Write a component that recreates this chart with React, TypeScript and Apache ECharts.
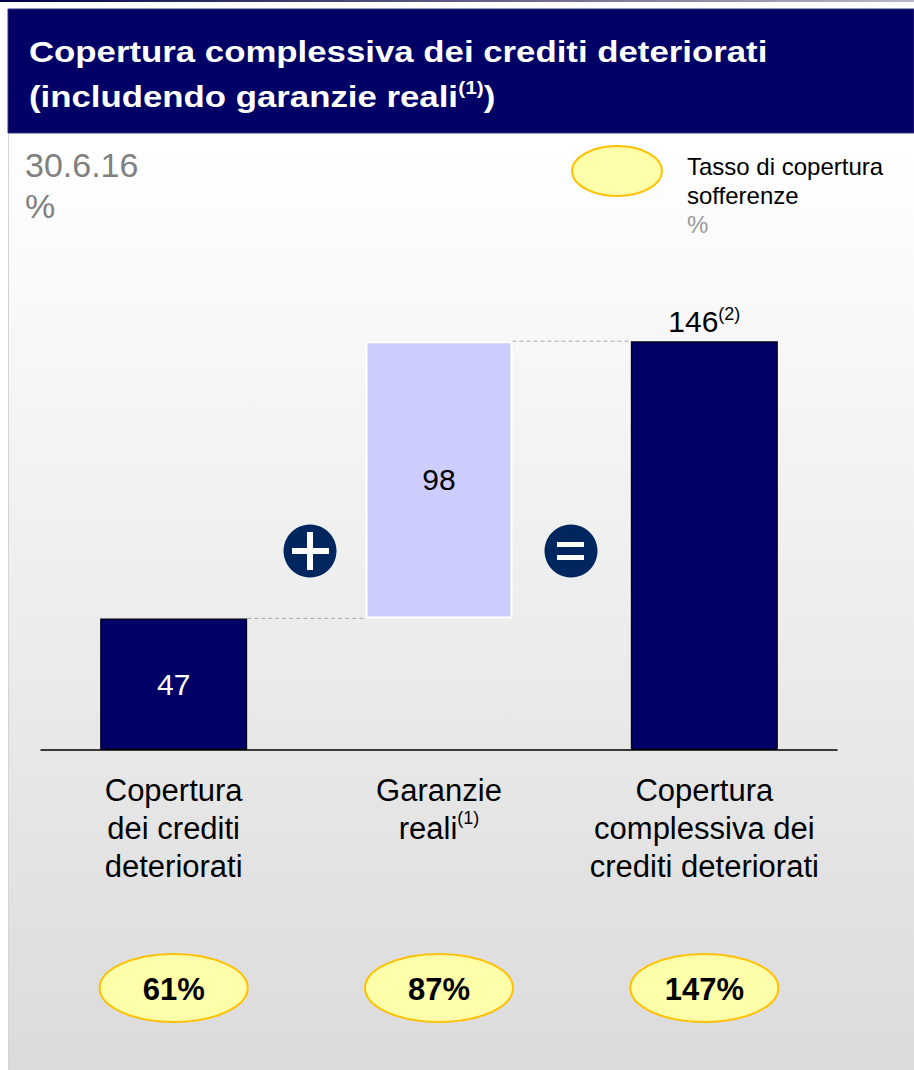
import React, { useEffect, useRef } from "react";
import * as echarts from "echarts";

// ---------- data ----------
const titleLine1 = "Copertura complessiva dei crediti deteriorati";
const titleLine2 = "(includendo garanzie reali";
const titleNote = "(1)";
const dateLabel = "30.6.16";
const unitLabel = "%";
const legendLines = ["Tasso di copertura", "sofferenze"];
const categoryLines = [
  ["Copertura", "dei crediti", "deteriorati"],
  ["Garanzie", "reali"],
  ["Copertura", "complessiva dei", "crediti deteriorati"],
];
const categoryNotes = ["", "(1)", ""];
const impairedCoverage = 47; // Copertura dei crediti deteriorati
const collateral = 98; // Garanzie reali
const totalCoverage = 146; // Copertura complessiva
const totalNote = "(2)";
const badLoanCoverage = [61, 87, 147]; // Tasso di copertura sofferenze (%)

const W = 914;
const H = 1070;
const FONT = "'Liberation Sans', Arial, Helvetica, sans-serif";
const NAVY = "#000066";
const LIGHT = "#ccccff";
const BAR_W = 147;

export default function App() {
  const ref = useRef<HTMLDivElement>(null);

  useEffect(() => {
    if (!ref.current) return;
    const chart = echarts.init(ref.current, null, { renderer: "svg", width: W, height: H });
    const categories = categoryLines.map((l) => l.join(" "));

    const baseData = [0, impairedCoverage, 0];
    const visData = [
      {
        value: impairedCoverage,
        itemStyle: { color: NAVY, borderColor: "#000022", borderWidth: 1.5 },
        label: {
          show: true,
          position: "inside",
          color: "#ffffff",
          fontSize: 30,
          fontFamily: FONT,
          formatter: () => String(impairedCoverage),
        },
      },
      {
        value: totalCoverage - impairedCoverage,
        itemStyle: { color: LIGHT, borderColor: "#ffffff", borderWidth: 2 },
        label: {
          show: true,
          position: "inside",
          color: "#000000",
          fontSize: 30,
          fontFamily: FONT,
          formatter: () => String(collateral),
        },
      },
      {
        value: totalCoverage,
        itemStyle: { color: NAVY, borderColor: "#000022", borderWidth: 1.5 },
        label: {
          show: true,
          position: "top",
          distance: 4,
          color: "#000000",
          fontFamily: FONT,
          formatter: () => `{v|${totalCoverage}}{s|${totalNote}}`,
          rich: {
            v: { fontSize: 30, lineHeight: 32, fontFamily: FONT, color: "#000" },
            s: { fontSize: 18, lineHeight: 22, verticalAlign: "top", fontFamily: FONT, color: "#000" },
          },
        },
      },
    ];

    chart.setOption({
      animation: false,
      grid: { left: 41, right: 77, top: 330, bottom: H - 750, containLabel: false },
      xAxis: {
        type: "category",
        data: categories,
        z: 10,
        axisLine: { show: true, lineStyle: { color: "#000000", width: 1.5 } },
        axisTick: { show: false },
        axisLabel: {
          interval: 0,
          margin: 21,
          color: "#000000",
          fontSize: 31,
          lineHeight: 38,
          fontFamily: FONT,
          formatter: (_v: string, idx: number) => {
            const lines = categoryLines[idx].map((l) => `{n|${l}}`);
            if (categoryNotes[idx]) {
              lines[lines.length - 1] += `{s|${categoryNotes[idx]}}`;
            }
            return lines.join("\n");
          },
          rich: {
            n: { fontSize: 31, lineHeight: 38, fontFamily: FONT, color: "#000" },
            s: { fontSize: 18, lineHeight: 26, verticalAlign: "top", fontFamily: FONT, color: "#000" },
          },
        },
      },
      yAxis: {
        type: "value",
        min: 0,
        max: 150,
        show: false,
        splitLine: { show: false },
      },
      series: [
        {
          type: "bar",
          stack: "w",
          barWidth: BAR_W,
          data: baseData,
          itemStyle: { color: "transparent" },
          silent: true,
        },
        {
          type: "bar",
          stack: "w",
          barWidth: BAR_W,
          data: visData,
        },
      ],
    });

    const px = (i: number, v: number) => chart.convertToPixel({ gridIndex: 0 }, [i, v]) as number[];
    const xs = [0, 1, 2].map((i) => px(i, 0)[0]);
    const yImp = px(0, impairedCoverage)[1];
    const yTot = px(2, totalCoverage)[1];

    const graphic: any[] = [
      // backgrounds
      { type: "rect", z: -100, shape: { x: 0, y: 0, width: W, height: H }, style: { fill: "#ffffff" } },
      {
        type: "rect",
        z: -99,
        shape: { x: 0, y: 0, width: W, height: 2 },
        style: {
          fill: new echarts.graphic.LinearGradient(0, 0, 1, 0, [
            { offset: 0, color: "#000044" },
            { offset: 1, color: "#b8b8c8" },
          ]),
        },
      },
      {
        type: "rect",
        z: -99,
        shape: { x: 9, y: 133, width: W - 9, height: H - 133 },
        style: {
          fill: new echarts.graphic.LinearGradient(0, 0, 0, 1, [
            { offset: 0, color: "#ffffff" },
            { offset: 1, color: "#dbdbdb" },
          ]),
        },
      },
      { type: "line", z: -98, shape: { x1: 8.5, y1: 133, x2: 8.5, y2: H }, style: { stroke: "#d4d4d4", lineWidth: 1 } },
      { type: "rect", z: -98, shape: { x: 8, y: 9, width: W - 8, height: 124 }, style: { fill: NAVY, stroke: "#33337a", lineWidth: 1 } },
      // title
      {
        type: "text",
        x: 29,
        y: 52,
        scaleX: 1.16,
        z: 50,
        style: { text: titleLine1, fill: "#ffffff", font: `bold 30px ${FONT}`, verticalAlign: "middle", align: "left" },
      },
      {
        type: "text",
        x: 29,
        y: 97,
        scaleX: 1.16,
        z: 50,
        style: {
          text: `{t|${titleLine2}}{s|${titleNote}}{t|)}`,
          fill: "#ffffff",
          font: `bold 30px ${FONT}`,
          verticalAlign: "middle",
          align: "left",
          rich: {
            t: { fontSize: 30, fontWeight: "bold", fontFamily: FONT, lineHeight: 36, fill: "#ffffff" },
            s: { fontSize: 18, fontWeight: "bold", fontFamily: FONT, lineHeight: 22, verticalAlign: "top", fill: "#ffffff" },
          },
        },
      },
      // date / unit
      { type: "text", x: 25, y: 165, z: 50, style: { text: dateLabel, fill: "#808080", font: `34px ${FONT}`, verticalAlign: "middle" } },
      { type: "text", x: 25, y: 206, z: 50, style: { text: unitLabel, fill: "#808080", font: `34px ${FONT}`, verticalAlign: "middle" } },
      // legend
      {
        type: "ellipse",
        z: 50,
        shape: { cx: 617, cy: 171, rx: 45, ry: 25 },
        style: { fill: "#ffffaa", stroke: "#ffc000", lineWidth: 2 },
      },
      { type: "text", x: 687, y: 166, z: 50, style: { text: legendLines[0], fill: "#000", font: `24px ${FONT}`, verticalAlign: "middle" } },
      { type: "text", x: 687, y: 195, z: 50, style: { text: legendLines[1], fill: "#000", font: `24px ${FONT}`, verticalAlign: "middle" } },
      { type: "text", x: 687, y: 224, z: 50, style: { text: unitLabel, fill: "#999999", font: `24px ${FONT}`, verticalAlign: "middle" } },
      // plus
      { type: "circle", z: 50, shape: { cx: 310, cy: 551, r: 26.5 }, style: { fill: "#002660" } },
      { type: "rect", z: 51, shape: { x: 292, y: 548, width: 37, height: 6 }, style: { fill: "#ffffff" } },
      { type: "rect", z: 51, shape: { x: 307, y: 532, width: 6, height: 38 }, style: { fill: "#ffffff" } },
      // equals
      { type: "circle", z: 50, shape: { cx: 571, cy: 551, r: 26.5 }, style: { fill: "#002660" } },
      { type: "rect", z: 51, shape: { x: 557, y: 542, width: 27, height: 5 }, style: { fill: "#ffffff" } },
      { type: "rect", z: 51, shape: { x: 557, y: 555, width: 27, height: 5 }, style: { fill: "#ffffff" } },
      // connectors
      {
        type: "line",
        z: 20,
        shape: { x1: xs[0] + BAR_W / 2, y1: yImp, x2: xs[1] - BAR_W / 2, y2: yImp },
        style: { stroke: "#a8a8a8", lineWidth: 1, lineDash: [4, 3] },
      },
      {
        type: "line",
        z: 20,
        shape: { x1: xs[1] + BAR_W / 2, y1: yTot, x2: xs[2] - BAR_W / 2, y2: yTot },
        style: { stroke: "#a8a8a8", lineWidth: 1, lineDash: [4, 3] },
      },
    ];

    badLoanCoverage.forEach((v, i) => {
      graphic.push({
        type: "ellipse",
        z: 50,
        shape: { cx: xs[i], cy: 988, rx: 74, ry: 34 },
        style: { fill: "#ffffaa", stroke: "#ffc000", lineWidth: 2 },
      });
      graphic.push({
        type: "text",
        z: 51,
        x: xs[i],
        y: 989,
        style: { text: `${v}%`, fill: "#000", font: `bold 31px ${FONT}`, align: "center", verticalAlign: "middle" },
      });
    });

    chart.setOption({ graphic });

    return () => {
      chart.dispose();
    };
  }, []);

  return <div ref={ref} style={{ position: "absolute", left: 0, top: 0, width: W, height: H }} />;
}
